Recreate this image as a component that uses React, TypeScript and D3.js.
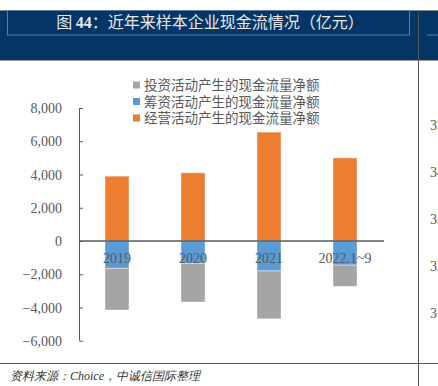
import React from "react";
import * as d3 from "d3";

const categories = ["2019", "2020", "2021", "2022.1~9"];
const operating = [3900, 4100, 6550, 5000];
const financing = [-1640, -1340, -1800, -1450];
const investing = [-2510, -2330, -2880, -1280];
const yTicks = [-6000, -4000, -2000, 0, 2000, 4000, 6000, 8000];
const seriesNames = ["经营活动产生的现金流量净额", "筹资活动产生的现金流量净额", "投资活动产生的现金流量净额"];
const legendOrder = ["投资活动产生的现金流量净额", "筹资活动产生的现金流量净额", "经营活动产生的现金流量净额"];
const colors: Record<string, string> = {
  "经营活动产生的现金流量净额": "#ED7D31",
  "筹资活动产生的现金流量净额": "#5B9BD5",
  "投资活动产生的现金流量净额": "#A5A5A5",
};
const sideTicks = ["35", "34", "33", "32", "31"];

const W = 438, H = 386;
const navy = "#033566";
const textGray = "#595959";
const serif = "'Liberation Serif', 'Times New Roman', serif";
const cjk = "'Noto Sans CJK SC', sans-serif";

export default function App() {
  const rows = categories.map((c, i) => ({
    cat: c,
    [seriesNames[0]]: operating[i],
    [seriesNames[1]]: financing[i],
    [seriesNames[2]]: investing[i],
  }));
  const stack = d3.stack<any>().keys(seriesNames).offset(d3.stackOffsetDiverging);
  const layers = stack(rows);

  const x = d3.scaleBand().domain(categories).range([79, 383]).paddingInner(0.684).paddingOuter(0.342);
  const y = d3.scaleLinear().domain([-6000, 8000]).range([340.75, 108]);
  const fmt = d3.format(",");

  return (
    <svg width={W} height={H} style={{ position: "absolute", left: 0, top: 0, background: "#fff" }}>
      {/* header band */}
      <rect x={0} y={10} width={W} height={50} fill={navy} />
      <line x1={0} x2={W} y1={10.5} y2={10.5} stroke="#8a8a8a" />
      <line x1={0} x2={W} y1={60.5} y2={60.5} stroke="#9a9a9a" />
      <rect x={7.5} y={10.5} width={402} height={24.5} fill="none" stroke="#5a7a9e" strokeWidth={1} />
      <line x1={427} x2={W} y1={35} y2={35} stroke="#5a7a9e" />
      <text x={210} y={28} textAnchor="middle" fill="#e8e8e8" fontSize={16} fontFamily={cjk}>
        图 <tspan fontFamily={serif} fontWeight="bold">44</tspan>：近年来样本企业现金流情况（亿元）
      </text>
      {/* separator lines */}
      <line x1={418.5} x2={418.5} y1={10} y2={H} stroke="#555" />
      <line x1={0} x2={W} y1={363.5} y2={363.5} stroke="#555" />
      {sideTicks.map((t, i) => (
        <text key={t} x={430} y={130 + i * 47} fill={textGray} fontSize={14} fontFamily={serif}>{t}</text>
      ))}
      <text x={10} y={380} fill="#333" fontSize={12} fontStyle="italic" fontFamily={serif}>
        资料来源：Choice，中诚信国际整理
      </text>

      {/* legend */}
      {legendOrder.map((name, i) => (
        <g key={name} transform={`translate(133, ${85 + i * 16.5})`}>
          <rect x={0} y={-3.5} width={7} height={7} fill={colors[name]} />
          <text x={11} y={5} fill={textGray} fontSize={13.5} fontFamily={cjk}>{name}</text>
        </g>
      ))}

      {/* y axis */}
      <line x1={79.5} x2={79.5} y1={y(8000)} y2={y(-6000)} stroke={textGray} />
      {yTicks.map((t) => (
        <g key={t} transform={`translate(0, ${y(t)})`}>
          <line x1={79.5} x2={83} y1={0.5} y2={0.5} stroke={textGray} />
          <text x={62} y={5} textAnchor="end" fill={textGray} fontSize={14} fontFamily={serif}>{fmt(t)}</text>
        </g>
      ))}

      {/* bars */}
      {layers.map((layer) => (
        <g key={layer.key}>
          {layer.map((d: any, i: number) => (
            <rect
              key={i}
              x={x(categories[i])}
              width={x.bandwidth()}
              y={y(Math.max(d[0], d[1]))}
              height={Math.abs(y(d[0]) - y(d[1]))}
              fill={colors[layer.key]}
              stroke="rgba(255,255,255,0.5)"
              strokeWidth={0.8}
            />
          ))}
        </g>
      ))}

      {/* zero line */}
      <line x1={79} x2={384} y1={y(0)} y2={y(0)} stroke={textGray} strokeWidth={1.6} />
      {categories.map((c) => (
        <text key={c} x={(x(c) ?? 0) + x.bandwidth() / 2} y={263} textAnchor="middle" fill={textGray} fontSize={14} fontFamily={serif}>
          {c}
        </text>
      ))}
    </svg>
  );
}
